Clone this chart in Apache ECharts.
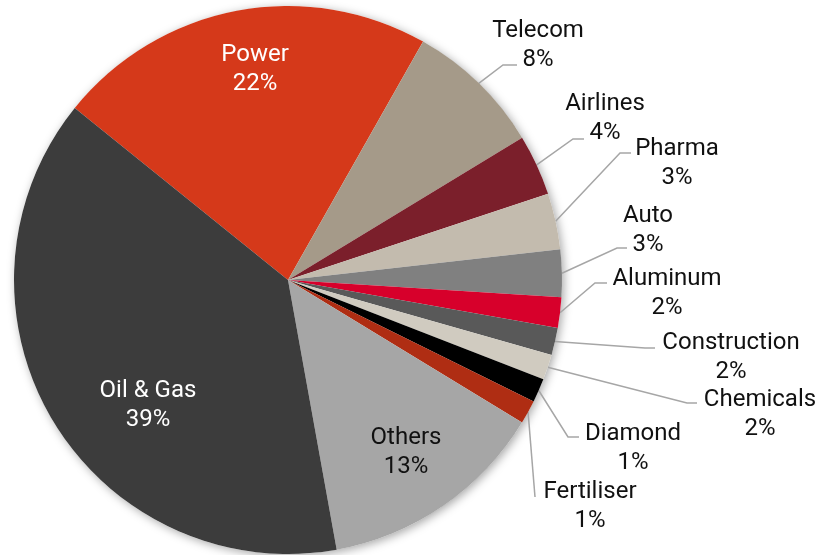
<!DOCTYPE html>
<html>
<head>
<meta charset="utf-8">
<script src="https://cdn.jsdelivr.net/npm/echarts@6/dist/echarts.min.js"></script>
<style>html,body{margin:0;padding:0;background:#fff}#c{width:826px;height:555px}</style>
</head>
<body>
<div id="c"></div>
<script>
// ---- data ----
var categories = ['Power', 'Telecom', 'Airlines', 'Pharma', 'Auto', 'Aluminum', 'Construction', 'Chemicals', 'Diamond', 'Fertiliser', 'Others', 'Oil & Gas'];
var values = [22.4, 8.1, 3.6, 3.3, 2.8, 1.8, 1.6, 1.5, 1.4, 1.4, 13.45, 38.65];
var colors = ['#D5391A', '#A59A89', '#7B1F2B', '#C3BBAE', '#808080', '#D7002B', '#595959', '#D0CBC0', '#000000', '#AF2D13', '#A6A6A6', '#3C3C3C'];
var insideLabels = ['Power', 'Others', 'Oil & Gas'];

// ---- label layout (label centre x,y ; leader end x,y ; leader bend x) ----
var labelLayoutTable = {
  'Power':        [255, 69],
  'Others':       [406, 452],
  'Oil & Gas':    [148, 405],
  'Telecom':      [538, 45, 517, 65, 503],
  'Airlines':     [605, 118, 584, 139, 573],
  'Pharma':       [677, 163, 631, 153, 620],
  'Auto':         [648, 230, 627, 248, 617],
  'Aluminum':     [667, 293, 607, 283, 595],
  'Construction': [731, 357, 655, 348, 645],
  'Chemicals':    [760, 414, 697, 403, 687],
  'Diamond':      [633, 448, 579, 437, 568],
  'Fertiliser':   [590, 506, 535, 497, 535]
};

var FONT = 'Roboto, "Noto Sans", sans-serif';
var data = categories.map(function (n, i) {
  var inside = insideLabels.indexOf(n) >= 0;
  return {
    name: n,
    value: values[i],
    itemStyle: { color: colors[i] },
    label: { color: (n === 'Power' || n === 'Oil & Gas') ? '#ffffff' : '#111111' },
    labelLine: { show: !inside }
  };
});

var chart = echarts.init(document.getElementById('c'), null, { renderer: 'canvas' });
chart.setOption({
  animation: false,
  backgroundColor: '#ffffff',
  series: [
    {
      type: 'pie',
      silent: true,
      z: 1,
      center: [288, 280],
      radius: 274,
      data: [{ value: 1, name: '' }],
      itemStyle: { color: '#ffffff', borderWidth: 0, shadowBlur: 10, shadowColor: 'rgba(0,0,0,0.35)', shadowOffsetX: 2, shadowOffsetY: 2 },
      label: { show: false },
      labelLine: { show: false },
      emphasis: { disabled: true }
    },
    {
      type: 'pie',
      z: 2,
      center: [288, 280],
      radius: 274,
      startAngle: 141.1,
      clockwise: true,
      avoidLabelOverlap: false,
      data: data,
      itemStyle: { borderWidth: 0 },
      emphasis: { disabled: true },
      label: {
        show: true,
        position: 'outside',
        fontFamily: FONT,
        fontSize: 24,
        lineHeight: 29,
        align: 'center',
        color: '#111111',
        formatter: function (p) { return p.name + '\n' + Math.round(p.percent) + '%'; }
      },
      labelLine: {
        show: true,
        smooth: false,
        length: 15,
        length2: 10,
        lineStyle: { color: '#A6A6A6', width: 1.5 }
      },
      labelLayout: function (params) {
        var name = categories[params.dataIndex];
        var t = labelLayoutTable[name];
        var out = { x: t[0], y: t[1], align: 'center', verticalAlign: 'middle' };
        if (t.length > 2 && params.labelLinePoints) {
          var start = params.labelLinePoints[0];
          out.labelLinePoints = [start, [t[4], t[3]], [t[2], t[3]]];
        }
        return out;
      }
    }
  ]
});
</script>
</body>
</html>
